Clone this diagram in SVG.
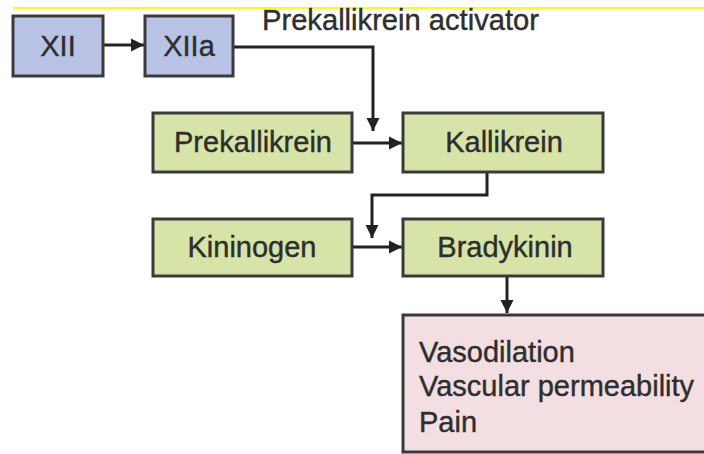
<svg xmlns="http://www.w3.org/2000/svg" width="704" height="454" viewBox="0 0 704 454">
<defs>
<marker id="ah" viewBox="0 0 10 10" refX="10" refY="5" markerWidth="4.5" markerHeight="4.5" orient="auto" markerUnits="strokeWidth">
<path d="M0,0 L10,5 L0,10 z" fill="#222222"/>
</marker>
<style>
.box{stroke:#3a3a3a;stroke-width:3}
.blue{fill:#b9c3e6}
.green{fill:#d6e4a7}
.pink{fill:#f3dfe2}
.t{font-family:"Liberation Sans",Arial,sans-serif;font-size:29px;fill:#2e2e2e;stroke:#2e2e2e;stroke-width:0.4}
.c{text-anchor:middle}
.con{fill:none;stroke:#222222;stroke-width:3}
</style>
</defs>
<rect x="0" y="0" width="704" height="454" fill="#ffffff"/>
<line x1="13" y1="8" x2="704" y2="8" stroke="#ffff00" stroke-width="2"/>
<g id="connectors">
<line class="con" x1="103" y1="45" x2="144" y2="45" marker-end="url(#ah)"/>
<polyline class="con" points="233,47 373,47 373,131" marker-end="url(#ah)"/>
<line class="con" x1="352" y1="143" x2="402" y2="143" marker-end="url(#ah)"/>
<polyline class="con" points="487,172 487,195 372,195 372,238" marker-end="url(#ah)"/>
<line class="con" x1="352" y1="247" x2="402" y2="247" marker-end="url(#ah)"/>
<line class="con" x1="507" y1="276" x2="507" y2="313" marker-end="url(#ah)"/>
</g>
<g id="xii"><rect class="box blue" x="13" y="16" width="90" height="60"/><text class="t c" x="58" y="56">XII</text></g>
<g id="xiia"><rect class="box blue" x="145" y="16" width="88" height="60"/><text class="t c" x="189" y="56">XIIa</text></g>
<g id="activator-label"><text class="t" x="262" y="30" textLength="277" lengthAdjust="spacingAndGlyphs">Prekallikrein activator</text></g>
<g id="prekallikrein"><rect class="box green" x="153" y="113" width="199" height="59"/><text class="t c" x="253" y="152">Prekallikrein</text></g>
<g id="kallikrein"><rect class="box green" x="403" y="113" width="200" height="59"/><text class="t c" x="504" y="152">Kallikrein</text></g>
<g id="kininogen"><rect class="box green" x="153" y="219" width="199" height="57"/><text class="t c" x="252" y="257">Kininogen</text></g>
<g id="bradykinin"><rect class="box green" x="403" y="219" width="200" height="57"/><text class="t c" x="505" y="257">Bradykinin</text></g>
<g id="effects"><rect class="box pink" x="403" y="315" width="320" height="137"/>
<text class="t" x="419" y="362">Vasodilation</text>
<text class="t" x="419" y="396">Vascular permeability</text>
<text class="t" x="419" y="432">Pain</text>
</g>
</svg>
